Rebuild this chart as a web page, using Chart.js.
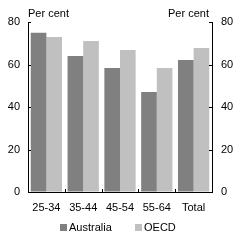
<!DOCTYPE html>
<html>
<head>
<meta charset="utf-8">
<script src="https://cdn.jsdelivr.net/npm/chart.js@4/dist/chart.umd.min.js"></script>
<style>
html,body{margin:0;padding:0;background:#fff;}
#wrap{width:241px;height:241px;}
</style>
</head>
<body>
<div id="wrap"><canvas id="c" width="241" height="241"></canvas></div>
<script>
const categories = ['25-34', '35-44', '45-54', '55-64', 'Total'];
const australia = [75, 64, 58.4, 47.1, 62.1];
const oecd = [73, 71.1, 66.8, 58.4, 67.8];
const yTicks = [0, 20, 40, 60, 80];
const unitLabel = 'Per cent';
const seriesNames = ['Australia', 'OECD'];

const FONT = 'Liberation Sans, Arial, sans-serif';

const decor = {
  id: 'decor',
  afterDraw(chart) {
    const ctx = chart.ctx;
    const ca = chart.chartArea;
    const y = chart.scales.y, x = chart.scales.x;
    ctx.save();
    ctx.strokeStyle = '#000';
    ctx.lineWidth = 1;
    ctx.beginPath();
    yTicks.forEach(v => {
      const py = Math.round(y.getPixelForValue(v)) + 0.5;
      ctx.moveTo(ca.left, py); ctx.lineTo(ca.left + 3, py);
      ctx.moveTo(ca.right, py); ctx.lineTo(ca.right - 3, py);
    });
    for (let i = 0; i < categories.length - 1; i++) {
      const px = Math.round((x.getPixelForValue(i) + x.getPixelForValue(i + 1)) / 2) + 0.5;
      ctx.moveTo(px, ca.bottom); ctx.lineTo(px, ca.bottom - 3);
    }
    ctx.stroke();
    ctx.fillStyle = '#000';
    ctx.font = '11px ' + FONT;
    ctx.textBaseline = 'middle';
    ctx.textAlign = 'left';
    ctx.fillText(unitLabel, ca.left, 14);
    ctx.textAlign = 'right';
    ctx.fillText(unitLabel, ca.right - 3, 14);
    // legend
    const items = chart.data.datasets.map(d => ({text: d.label, color: d.backgroundColor}));
    const xs = [60, 135];
    items.forEach((it, i) => {
      ctx.fillStyle = it.color;
      ctx.fillRect(xs[i], 224, 7, 7);
      ctx.fillStyle = '#000';
      ctx.textAlign = 'left';
      ctx.fillText(it.text, xs[i] + 9, 227.5);
    });
    ctx.restore();
  }
};

new Chart(document.getElementById('c'), {
  type: 'bar',
  data: {
    labels: categories,
    datasets: [
      {label: seriesNames[0], data: australia, backgroundColor: '#808080', yAxisID: 'y'},
      {label: seriesNames[1], data: oecd, backgroundColor: '#c0c0c0', yAxisID: 'y'}
    ]
  },
  options: {
    responsive: false,
    animation: false,
    devicePixelRatio: 1,
    layout: {padding: {top: 22, left: 0, right: 0, bottom: 0}},
    datasets: {bar: {categoryPercentage: 0.85, barPercentage: 1.0, borderWidth: 0}},
    plugins: {legend: {display: false}, tooltip: {enabled: false}},
    scales: {
      x: {
        grid: {display: true, drawOnChartArea: false, drawTicks: false},
        border: {display: true, color: '#000', width: 1},
        ticks: {color: '#000', font: {family: FONT, size: 11}, padding: 9, maxRotation: 0},
        afterFit(s) { s.height = 49; }
      },
      y: {
        position: 'left', min: 0, max: 80,
        grid: {display: true, drawOnChartArea: false, drawTicks: false},
        border: {display: true, color: '#000', width: 1},
        ticks: {stepSize: 20, color: '#000', font: {family: FONT, size: 11}, padding: 8},
        afterFit(s) { s.width = 28; }
      },
      y2: {
        position: 'right', min: 0, max: 80,
        grid: {display: true, drawOnChartArea: false, drawTicks: false},
        border: {display: true, color: '#000', width: 1},
        ticks: {stepSize: 20, color: '#000', font: {family: FONT, size: 11}, padding: 9},
        afterFit(s) { s.width = 29; }
      }
    }
  },
  plugins: [decor]
});
</script>
</body>
</html>
